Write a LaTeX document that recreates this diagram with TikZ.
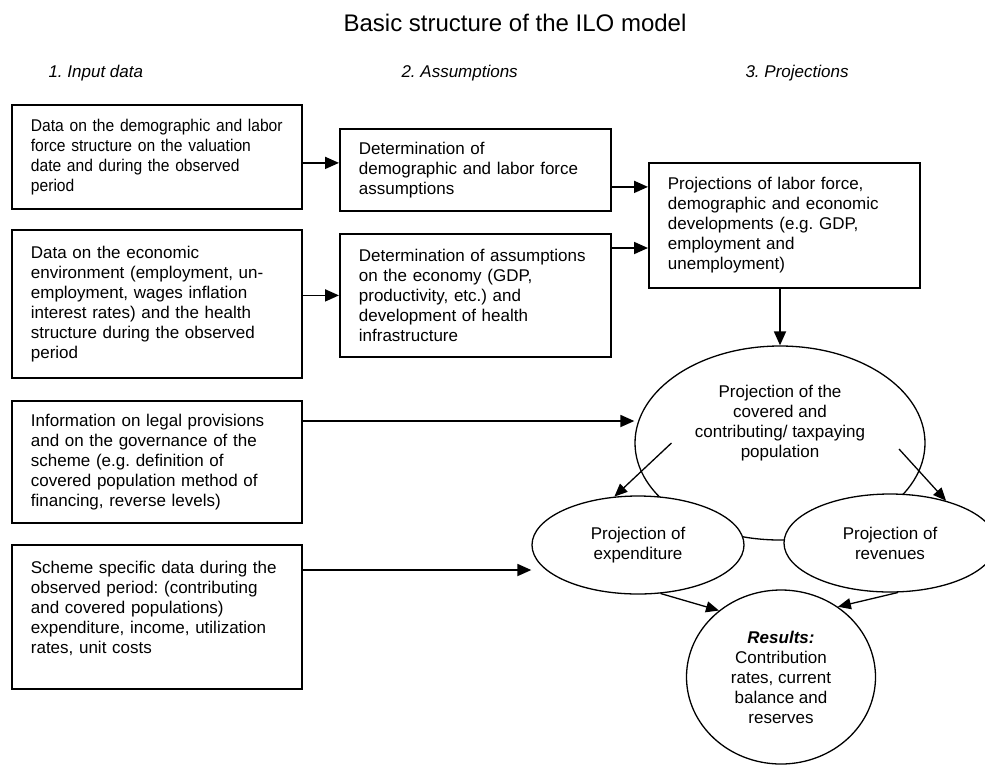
\documentclass[tikz,border=0pt]{standalone}
\usepackage{fontspec}
\setmainfont{Liberation Sans}
\newfontfamily\narrowsans[FakeStretch=0.92]{Liberation Sans}
\usetikzlibrary{arrows.meta,calc,shapes.geometric}
\frenchspacing

\begin{document}
\begin{tikzpicture}[x=1pt,y=-1pt]
\tikzstyle{box}=[rectangle, draw=black, line width=1.8pt, anchor=north west, inner xsep=19pt, inner ysep=0pt, align=left, font=\fontsize{17}{20}\selectfont]
\tikzstyle{oval}=[ellipse, draw=black, line width=1.3pt, fill=white, inner sep=0pt, align=center, font=\fontsize{17}{20}\selectfont]
\tikzstyle{head}=[anchor=base west, font=\fontsize{17}{20}\selectfont\itshape]
\tikzstyle{connect}=[-{Triangle[length=14pt,width=12pt]}, line width=1.8pt]
\tikzstyle{thinconnect}=[-{Triangle[length=13pt,width=11pt]}, line width=1.3pt]
  \useasboundingbox (0,0) rectangle (985,764);
  \node[anchor=base, font=\fontsize{24}{28}\selectfont] (title) at (515,31) {Basic structure of the ILO model};
  \node[head] (h1) at (45,77) {1. Input data};
  \node[head] (h2) at (398,77) {2. Assumptions};
  \node[head] (h3) at (742,77) {3. Projections};
  % input data
  \node[box, text width=252pt, minimum height=104pt, font=\fontsize{17}{20}\narrowsans] (a1) at (11,104) {Data on the demographic and labor\\force structure on the valuation\\date and during the observed\\period};
  \node[box, text width=252pt, minimum height=148pt] (a2) at (11,229) {Data on the economic\\environment (employment, un-\\employment, wages inflation\\interest rates) and the health\\structure during the observed\\period};
  \node[box, text width=252pt, minimum height=122pt] (a3) at (11,400) {Information on legal provisions\\and on the governance of the\\scheme (e.g. definition of\\covered population method of\\financing, reverse levels)};
  \node[box, text width=252pt, minimum height=144pt] (a4) at (11,544) {Scheme specific data during the\\observed period: (contributing\\and covered populations)\\expenditure, income, utilization\\rates, unit costs\\ \mbox{}};
  % assumptions
  \node[box, text width=233pt, minimum height=82pt] (b1) at (339,128) {Determination of\\demographic and labor force\\assumptions};
  \node[box, text width=233pt, minimum height=123pt] (b2) at (339,233) {Determination of assumptions\\on the economy (GDP,\\productivity, etc.) and\\development of health\\infrastructure};
  % projections
  \node[box, text width=233pt, minimum height=125pt] (c1) at (648,162) {Projections of labor force,\\demographic and economic\\developments (e.g. GDP,\\employment and\\unemployment)};
  \node[oval, minimum width=290pt, minimum height=194pt] (e0) at (780,443) {};
  \node[align=center, font=\fontsize{17}{20}\selectfont] (e0text) at ([yshift=20pt]e0.center) {Projection of the\\covered and\\contributing/ taxpaying\\population};
  \node[oval, minimum width=212pt, minimum height=98pt] (e1) at (638,545) {Projection of\\expenditure};
  \node[oval, minimum width=212pt, minimum height=98pt] (e2) at (890,543) {Projection of\\revenues};
  \node[oval, minimum width=189pt, minimum height=174pt] (e3) at (781,677) {\textbf{\textit{Results:}}\\Contribution\\rates, current\\balance and\\reserves};
  % connectors
  \path ([yshift=-6pt]a1.east) edge [connect] ([yshift=-6pt]a1.east -| b1.west);
  \path (b2.west -| a2.east) edge [connect] (b2.west);
  \path ([yshift=-17pt]b1.east) edge [connect] ([yshift=-17pt]b1.east -| c1.west);
  \path ([yshift=-15pt]b2.north east) edge [connect] ([yshift=-15pt]b2.north east -| c1.west);
  \path ([yshift=-21pt]a3.north east) edge [connect] ([yshift=-21pt]a3.north east -| e0.west);
  \path ([yshift=-26pt]a4.north east) edge [connect] ([yshift=-26pt]a4.north east -| e1.west);
  \path (e0.north |- c1.south) edge [connect] (e0.north);
  \path ($(e0.center)!0.745!(e0.west)$) edge [thinconnect] (e1.116);
  \path ($(e0.center)+(119,6)$) edge [thinconnect] (e2.37);
  \path (e1.-65) edge [thinconnect] (e3.133);
  \path (e2.-81) edge [thinconnect] (e3.51);
\end{tikzpicture}
\end{document}
